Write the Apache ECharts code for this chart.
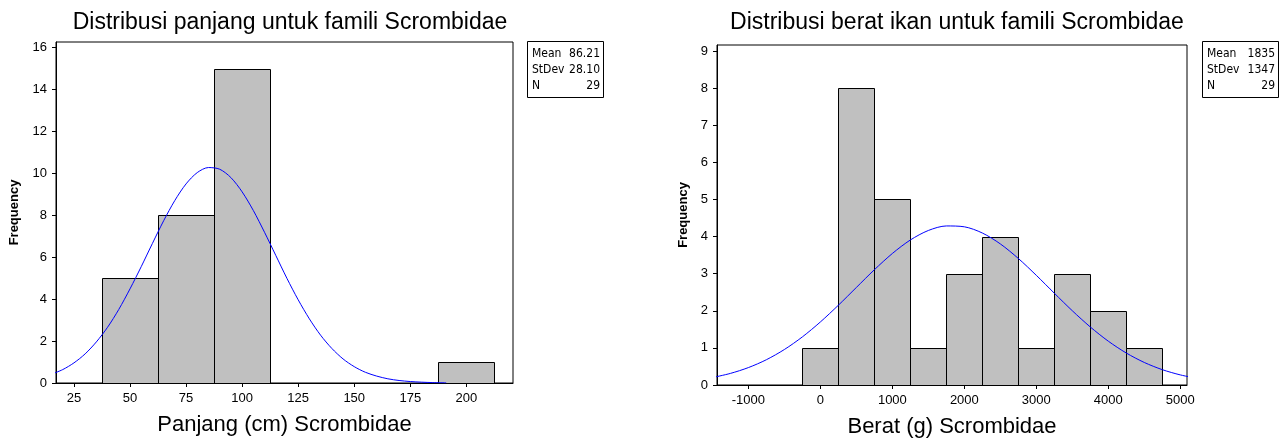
<!DOCTYPE html>
<html>
<head>
<meta charset="utf-8">
<script src="https://cdn.jsdelivr.net/npm/echarts@6/dist/echarts.min.js"></script>
<style>html,body{margin:0;padding:0;background:#fff}#c{width:1282px;height:446px}</style>
</head>
<body>
<div id="c"></div>
<script>
// ---- data ----
var leftTitle = 'Distribusi panjang untuk famili Scrombidae';
var rightTitle = 'Distribusi berat ikan untuk famili Scrombidae';
var leftXName = 'Panjang (cm) Scrombidae';
var rightXName = 'Berat (g) Scrombidae';
var yName = 'Frequency';

var leftBinCenters = [50, 75, 100, 200];
var leftCounts = [5, 8, 15, 1];
var leftBinWidth = 25;
var leftXTicks = [25, 50, 75, 100, 125, 150, 175, 200];
var leftYTicks = [0, 2, 4, 6, 8, 10, 12, 14, 16];
var leftCurveX = [15, 20, 25, 30, 35, 40, 45, 50, 55, 60, 65, 70, 75, 80, 85, 90, 95, 100, 105, 110, 115, 120, 125, 130, 135, 140, 145, 150, 155, 160, 165, 170, 175, 180, 185, 191];
var leftCurveY = [0.42, 0.64, 0.96, 1.39, 1.96, 2.66, 3.51, 4.49, 5.55, 6.66, 7.74, 8.71, 9.50, 10.04, 10.28, 10.20, 9.80, 9.12, 8.23, 7.19, 6.09, 4.99, 3.97, 3.06, 2.28, 1.65, 1.15, 0.78, 0.51, 0.33, 0.20, 0.12, 0.07, 0.04, 0.02, 0.01];
var leftStatLabels = ['Mean', 'StDev', 'N'];
var leftStatValues = ['86.21', '28.10', '29'];

var rightBinCenters = [0, 500, 1000, 1500, 2000, 2500, 3000, 3500, 4000, 4500];
var rightCounts = [1, 8, 5, 1, 3, 4, 1, 3, 2, 1];
var rightBinWidth = 500;
var rightXTicks = [-1000, 0, 1000, 2000, 3000, 4000, 5000];
var rightYTicks = [0, 1, 2, 3, 4, 5, 6, 7, 8, 9];
var rightCurveX = [-1500, -1250, -1000, -750, -500, -250, 0, 250, 500, 750, 1000, 1250, 1500, 1750, 2000, 2250, 2500, 2750, 3000, 3250, 3500, 3750, 4000, 4250, 4500, 4750, 5000, 5250];
var rightCurveY = [0.200, 0.312, 0.469, 0.681, 0.956, 1.296, 1.698, 2.149, 2.628, 3.105, 3.543, 3.907, 4.163, 4.285, 4.262, 4.095, 3.801, 3.409, 2.954, 2.473, 2.000, 1.563, 1.180, 0.861, 0.607, 0.413, 0.272, 0.173];
var rightStatLabels = ['Mean', 'StDev', 'N'];
var rightStatValues = ['1835', '1347', '29'];

// ---- helpers ----
var FONT = '"Liberation Sans", Arial, sans-serif';
var SMALL = '"Liberation Sans Narrow", "DejaVu Sans Condensed", "Liberation Sans", sans-serif';

function bins(centers, counts, w) {
  var out = [];
  for (var i = 0; i < centers.length; i++) {
    if (counts[i] > 0) out.push([centers[i], counts[i], w]);
  }
  return out;
}
function pairs(xs, ys) {
  return xs.map(function (x, i) { return [x, ys[i]]; });
}
function renderBar(params, api) {
  var c = api.value(0), h = api.value(1), w = api.value(2);
  var p0 = api.coord([c - w / 2, h]);
  var p1 = api.coord([c + w / 2, 0]);
  return {
    type: 'rect',
    shape: { x: Math.round(p0[0]) + 0.5, y: Math.round(p0[1]) + 0.5,
             width: Math.round(p1[0]) - Math.round(p0[0]), height: Math.round(p1[1]) - Math.round(p0[1]) },
    style: { fill: '#c0c0c0', stroke: '#000', lineWidth: 1 }
  };
}
function plain(v) { return String(v); }
function xAxis(idx, min, max, ticks, name) {
  return {
    type: 'value', gridIndex: idx, min: min, max: max,
    name: name, nameLocation: 'middle', nameGap: 31,
    nameTextStyle: { fontFamily: FONT, fontSize: 22, color: '#000' },
    axisLine: { show: true, onZero: false, lineStyle: { color: '#000', width: 1 } },
    axisTick: { show: true, customValues: ticks, length: 4, lineStyle: { color: '#000' } },
    axisLabel: { customValues: ticks, formatter: plain, margin: 9, fontFamily: FONT, fontSize: 13, color: '#000' },
    splitLine: { show: false }
  };
}
function yAxis(idx, max, ticks, gap) {
  return {
    type: 'value', gridIndex: idx, min: 0, max: max,
    name: yName, nameLocation: 'middle', nameGap: gap,
    nameTextStyle: { fontFamily: FONT, fontSize: 13, fontWeight: 'bold', color: '#000' },
    axisLine: { show: true, onZero: false, lineStyle: { color: '#000', width: 1 } },
    axisTick: { show: true, customValues: ticks, length: 4, lineStyle: { color: '#000' } },
    axisLabel: { customValues: ticks, formatter: plain, margin: 9, fontFamily: FONT, fontSize: 13, color: '#000' },
    splitLine: { show: false }
  };
}
function statBox(x0, x1, labels, values) {
  var children = [{
    type: 'rect', shape: { x: x0 + 0.5, y: 41.5, width: x1 - x0, height: 56 },
    style: { fill: '#fff', stroke: '#000', lineWidth: 1 }
  }];
  for (var i = 0; i < labels.length; i++) {
    children.push({ type: 'text', x: x0 + 5, y: 54 + i * 16,
      style: { text: labels[i], fontFamily: SMALL, fontSize: 12, fill: '#000', textVerticalAlign: 'middle', textAlign: 'left' } });
    children.push({ type: 'text', x: x1 - 3, y: 54 + i * 16,
      style: { text: values[i], fontFamily: SMALL, fontSize: 12, fill: '#000', textVerticalAlign: 'middle', textAlign: 'right' } });
  }
  return { type: 'group', children: children };
}

var chart = echarts.init(document.getElementById('c'), null, { renderer: 'canvas' });
chart.setOption({
  animation: false,
  backgroundColor: '#fff',
  title: [
    { text: leftTitle, left: 285, top: 6, textAlign: 'center', textStyle: { fontFamily: FONT, fontSize: 23, fontWeight: 'normal', color: '#000' } },
    { text: rightTitle, left: 952, top: 6, textAlign: 'center', textStyle: { fontFamily: FONT, fontSize: 23, fontWeight: 'normal', color: '#000' } }
  ],
  grid: [
    { left: 56, top: 42, width: 457, height: 341, show: true, borderColor: '#000', borderWidth: 1, backgroundColor: 'transparent' },
    { left: 717, top: 45, width: 470, height: 340, show: true, borderColor: '#000', borderWidth: 1, backgroundColor: 'transparent' }
  ],
  xAxis: [
    xAxis(0, 17, 220.8, leftXTicks, leftXName),
    xAxis(1, -1436, 5093, rightXTicks, rightXName)
  ],
  yAxis: [
    yAxis(0, 16.27, leftYTicks, 35),
    yAxis(1, 9.16, rightYTicks, 27)
  ],
  series: [
    { type: 'custom', xAxisIndex: 0, yAxisIndex: 0, renderItem: renderBar, data: bins(leftBinCenters, leftCounts, leftBinWidth), clip: true },
    { type: 'line', xAxisIndex: 0, yAxisIndex: 0, data: pairs(leftCurveX, leftCurveY), smooth: 0.3, symbol: 'none', lineStyle: { color: '#0000ff', width: 1 }, clip: true },
    { type: 'custom', xAxisIndex: 1, yAxisIndex: 1, renderItem: renderBar, data: bins(rightBinCenters, rightCounts, rightBinWidth), clip: true },
    { type: 'line', xAxisIndex: 1, yAxisIndex: 1, data: pairs(rightCurveX, rightCurveY), smooth: 0.3, symbol: 'none', lineStyle: { color: '#0000ff', width: 1 }, clip: true }
  ],
  graphic: [
    statBox(527, 603, leftStatLabels, leftStatValues),
    statBox(1202, 1278, rightStatLabels, rightStatValues)
  ]
});
</script>
</body>
</html>
